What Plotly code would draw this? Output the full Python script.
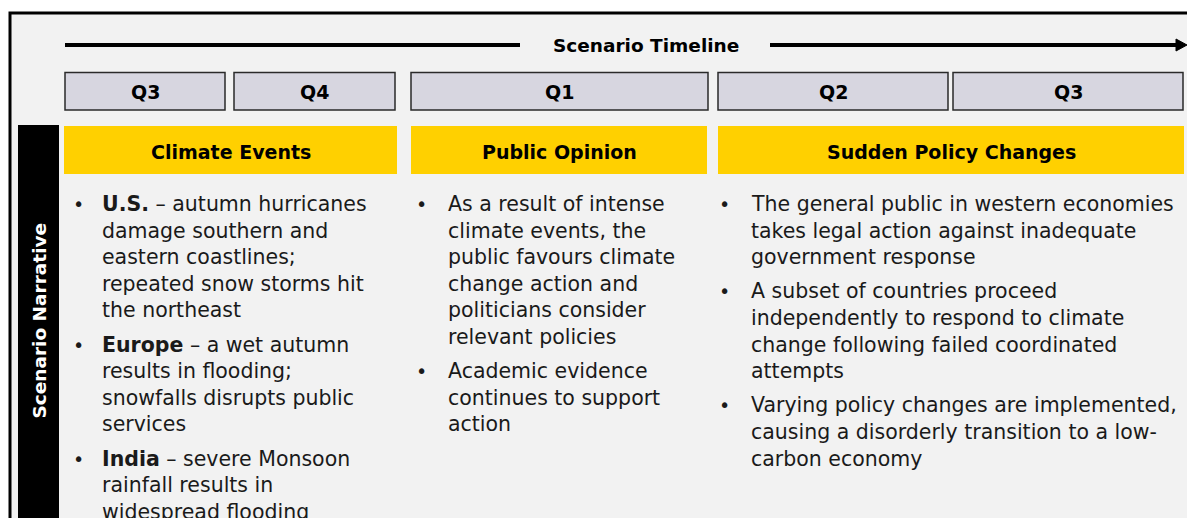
import plotly.graph_objects as go

# ---- content ----
timeline_title = "Scenario Timeline"
side_title = "Scenario Narrative"
quarters = ["Q3", "Q4", "Q1", "Q2", "Q3"]
headers = ["Climate Events", "Public Opinion", "Sudden Policy Changes"]

col1_bullets = [
    ["<b>U.S.</b> – autumn hurricanes", "damage southern and", "eastern coastlines;",
     "repeated snow storms hit", "the northeast"],
    ["<b>Europe</b> – a wet autumn", "results in flooding;", "snowfalls disrupts public",
     "services"],
    ["<b>India</b> – severe Monsoon", "rainfall results in", "widespread flooding"],
]
col2_bullets = [
    ["As a result of intense", "climate events, the", "public favours climate",
     "change action and", "politicians consider", "relevant policies"],
    ["Academic evidence", "continues to support", "action"],
]
col3_bullets = [
    ["The general public in western economies", "takes legal action against inadequate",
     "government response"],
    ["A subset of countries proceed", "independently to respond to climate",
     "change following failed coordinated", "attempts"],
    ["Varying policy changes are implemented,", "causing a disorderly transition to a low-",
     "carbon economy"],
]

# ---- layout geometry (pixels) ----
W, H = 1187, 518
BG = "#f2f2f2"
YELLOW = "#ffd000"
GREY = "#d7d6e0"
quarter_x = [(65, 225), (234, 395), (411, 708), (718, 948), (953, 1183)]
header_x = [(64, 397), (411, 707), (718, 1184)]
columns = [(col1_bullets, 78, 100), (col2_bullets, 421, 446), (col3_bullets, 724, 749)]
LINE_H = 26.6
GROUP_GAP = 7.6
TEXT_TOP = 204

FONT = "DejaVu Sans"
BODY_SIZE = 20.5
TEXT_COL = "#1a1a1a"

fig = go.Figure()
shapes = []
ann = []

# outer frame
shapes.append(dict(type="rect", x0=10, y0=13, x1=W + 20, y1=H + 20,
                   line=dict(color="black", width=3), fillcolor=BG, layer="below"))

# timeline arrow
shapes.append(dict(type="line", x0=65, x1=520, y0=45, y1=45, line=dict(color="black", width=4)))
shapes.append(dict(type="line", x0=770, x1=1178, y0=45, y1=45, line=dict(color="black", width=4)))
shapes.append(dict(type="path", path="M 1176 39 L 1187 45 L 1176 51 Z",
                   fillcolor="black", line=dict(color="black", width=1)))
ann.append(dict(x=646, y=45, text="<b>" + timeline_title + "</b>", showarrow=False,
                font=dict(family=FONT, size=18.5, color="black"), xanchor="center", yanchor="middle"))

# quarter boxes
for q, (x0, x1) in zip(quarters, quarter_x):
    shapes.append(dict(type="rect", x0=x0, x1=x1, y0=72.5, y1=110,
                       fillcolor=GREY, line=dict(color="#2a2a2a", width=1.5)))
    ann.append(dict(x=(x0 + x1) / 2, y=92, text="<b>" + q + "</b>", showarrow=False,
                    font=dict(family=FONT, size=19, color="black"),
                    xanchor="center", yanchor="middle"))

# yellow headers
for h, (x0, x1) in zip(headers, header_x):
    shapes.append(dict(type="rect", x0=x0, x1=x1, y0=126, y1=174,
                       fillcolor=YELLOW, line=dict(width=0)))
    ann.append(dict(x=(x0 + x1) / 2, y=152, text="<b>" + h + "</b>", showarrow=False,
                    font=dict(family=FONT, size=19, color="black"),
                    xanchor="center", yanchor="middle"))

# side bar
shapes.append(dict(type="rect", x0=18, x1=59, y0=125, y1=H + 20,
                   fillcolor="black", line=dict(width=0)))
ann.append(dict(x=38.5, y=321, text="<b>" + side_title + "</b>", showarrow=False,
                textangle=-90, font=dict(family=FONT, size=18.5, color="white"),
                xanchor="center", yanchor="middle"))

# bullet text
for groups, bx, tx in columns:
    y = TEXT_TOP
    for g in groups:
        ann.append(dict(x=bx, y=y, text="•", showarrow=False,
                        font=dict(family=FONT, size=19, color=TEXT_COL),
                        xanchor="center", yanchor="middle"))
        for line in g:
            ann.append(dict(x=tx, y=y, text=line, showarrow=False,
                            font=dict(family=FONT, size=BODY_SIZE, color=TEXT_COL),
                            xanchor="left", yanchor="middle"))
            y += LINE_H
        y += GROUP_GAP

fig.update_layout(
    width=W, height=H,
    margin=dict(l=0, r=0, t=0, b=0),
    paper_bgcolor="white", plot_bgcolor="white",
    xaxis=dict(range=[0, W], visible=False, fixedrange=True),
    yaxis=dict(range=[H, 0], visible=False, fixedrange=True),
    shapes=shapes, annotations=ann, showlegend=False,
)

# page has a default 8px body margin; drop it so the figure sits at 0,0
fig.write_html("out.html", config={"displayModeBar": False},
               post_script="document.body.style.margin='0';")
